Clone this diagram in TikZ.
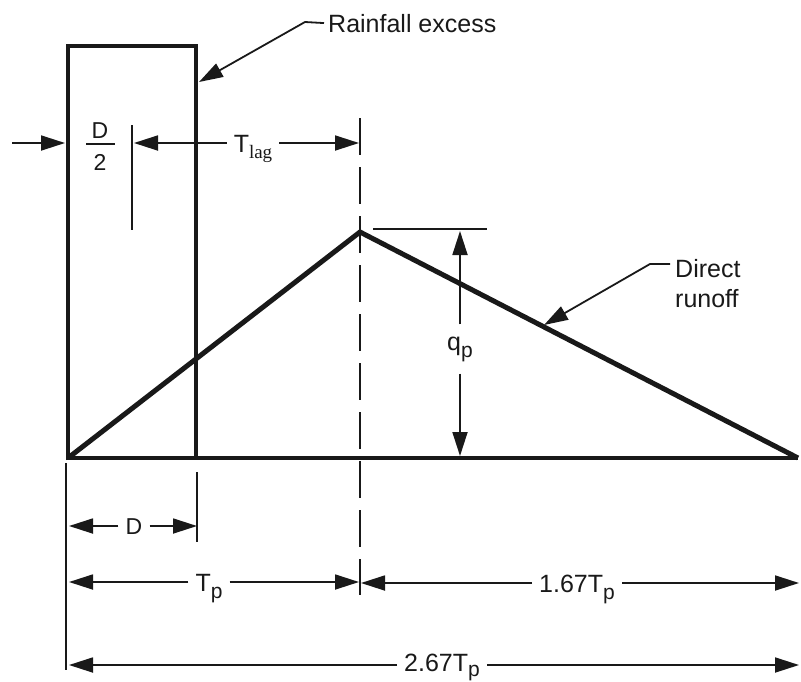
\documentclass[tikz,border=0pt]{standalone}
\usepackage{fontspec}
\setmainfont{Liberation Sans}
\newfontfamily\lagfont{Liberation Serif}
\usetikzlibrary{arrows.meta}
\newcommand{\mysubp}{\raisebox{-7pt}{\fontsize{21}{21}\selectfont p}}
\newcommand{\mysubpb}{\raisebox{-5pt}{\fontsize{21}{21}\selectfont p}}
\begin{document}
\begin{tikzpicture}[x=1pt,y=-1pt,
  heavy/.style={line width=4.5pt,line join=miter,draw=black!90},
  hydro/.style={line width=5pt,line join=miter,draw=black!90},
  dim/.style={line width=1.8pt,draw=black!90},
  arr/.style={-{Triangle[length=24pt,width=15pt]}},
  dashv/.style={line width=1.8pt,draw=black!90,dash pattern=on 37pt off 12pt},
  lbl/.style={font=\fontsize{25}{30}\selectfont,text=black!90,inner sep=0pt},
  gap/.style={lbl,inner xsep=7pt,inner ysep=0pt},
]
\useasboundingbox (0,0) rectangle (801,681);

% main geometry
\coordinate (O) at (68,458);
\coordinate (P) at (360,232);
\coordinate (E) at (798,458);
\coordinate (RB) at (68,460);
\coordinate (RTL) at (68,46);
\coordinate (RTR) at (196,46);
\coordinate (RBR) at (196,460);
\coordinate (B0) at (66,458);

\draw[heavy] (RB) -- (RTL) -- (RTR) -- (RBR);
\draw[heavy] (B0) -- (E);
\draw[hydro] (O) -- (P) -- (E);

% dashed vertical through peak
\coordinate (dv0) at (360,118);
\coordinate (dv1) at (360,595);
\draw[dashv] (dv0) -- (dv1);

% Rainfall excess label
\node[lbl,anchor=base west] (rain) at (328,32) {Rainfall excess};
\coordinate (rk) at (305,22);
\coordinate (rtip) at (199,82);
\draw[dim,arr] ([xshift=-4pt]rain.west) -- (rk) -- (rtip);

% Direct runoff label
\node[lbl,anchor=base west] (direct) at (675,277) {Direct};
\node[lbl,anchor=base west] (runoff) at (675,307) {runoff};
\coordinate (dk) at (650,264);
\coordinate (dtip) at (544,325);
\draw[dim,arr] ([xshift=-5pt,yshift=4pt]direct.west) -- (dk) -- (dtip);

% D/2
\node[lbl,font=\fontsize{23}{26}\selectfont,anchor=base] (dnum) at (100,138) {D};
\node[lbl,font=\fontsize{23}{26}\selectfont,anchor=base] (dden) at (100,170) {2};
\coordinate (bar0) at (86,144);
\coordinate (bar1) at (115,144);
\draw[dim] (bar0) -- (bar1);
\coordinate (hl0) at (12,143);
\coordinate (hl1) at (65,143);
\draw[dim,arr] (hl0) -- (hl1);
\coordinate (tk0) at (132,125);
\coordinate (tk1) at (132,230);
\draw[dim] (tk0) -- (tk1);

% T_lag
\node[gap,anchor=base] (tlag) at (253,152) {T\raisebox{-6pt}{\lagfont\fontsize{19}{19}\selectfont lag}};
\coordinate (tlL) at (134,143);
\coordinate (tlR) at (359,143);
\draw[dim,arr] (tlL -| tlag.west) -- (tlL);
\draw[dim,arr] (tlL -| tlag.east) -- (tlR);

% peak level line and q_p
\coordinate (pk0) at (373,229);
\coordinate (pk1) at (487,229);
\draw[dim] (pk0) -- (pk1);
\node[lbl,anchor=base,inner ysep=12pt] (qp) at (460,350) {q\mysubp};
\coordinate (qT) at (460,231);
\coordinate (qB) at (460,456);
\draw[dim,arr] (qT |- qp.north) -- (qT);
\draw[dim,arr] (qT |- qp.south) -- (qB);

% extension lines
\coordinate (ex0) at (66,463);
\coordinate (ex1) at (66,670);
\draw[dim] (ex0) -- (ex1);
\coordinate (dt0) at (197,472);
\coordinate (dt1) at (197,542);
\draw[dim] (dt0) -- (dt1);

% D dimension
\node[gap,font=\fontsize{23}{26}\selectfont,anchor=base] (dlab) at (134,534) {D};
\coordinate (dA) at (69,526);
\coordinate (dB) at (197,526);
\draw[dim,arr] (dA -| dlab.west) -- (dA);
\draw[dim,arr] (dA -| dlab.east) -- (dB);

% T_p
\node[gap,anchor=base] (tp) at (209,591) {T\mysubp};
\coordinate (tpA) at (69,582);
\coordinate (tpB) at (359,582);
\draw[dim,arr] (tpA -| tp.west) -- (tpA);
\draw[dim,arr] (tpA -| tp.east) -- (tpB);

% 1.67 T_p
\node[gap,anchor=base] (tq) at (577,592) {1.67T\mysubp};
\coordinate (tqA) at (361,583);
\coordinate (tqB) at (799,583);
\draw[dim,arr] (tqA -| tq.west) -- (tqA);
\draw[dim,arr] (tqA -| tq.east) -- (tqB);

% 2.67 T_p
\node[gap,anchor=base] (tr) at (442,671) {2.67T\mysubpb};
\coordinate (trA) at (69,665);
\coordinate (trB) at (799,665);
\draw[dim,arr] (trA -| tr.west) -- (trA);
\draw[dim,arr] (trA -| tr.east) -- (trB);
\end{tikzpicture}
\end{document}
